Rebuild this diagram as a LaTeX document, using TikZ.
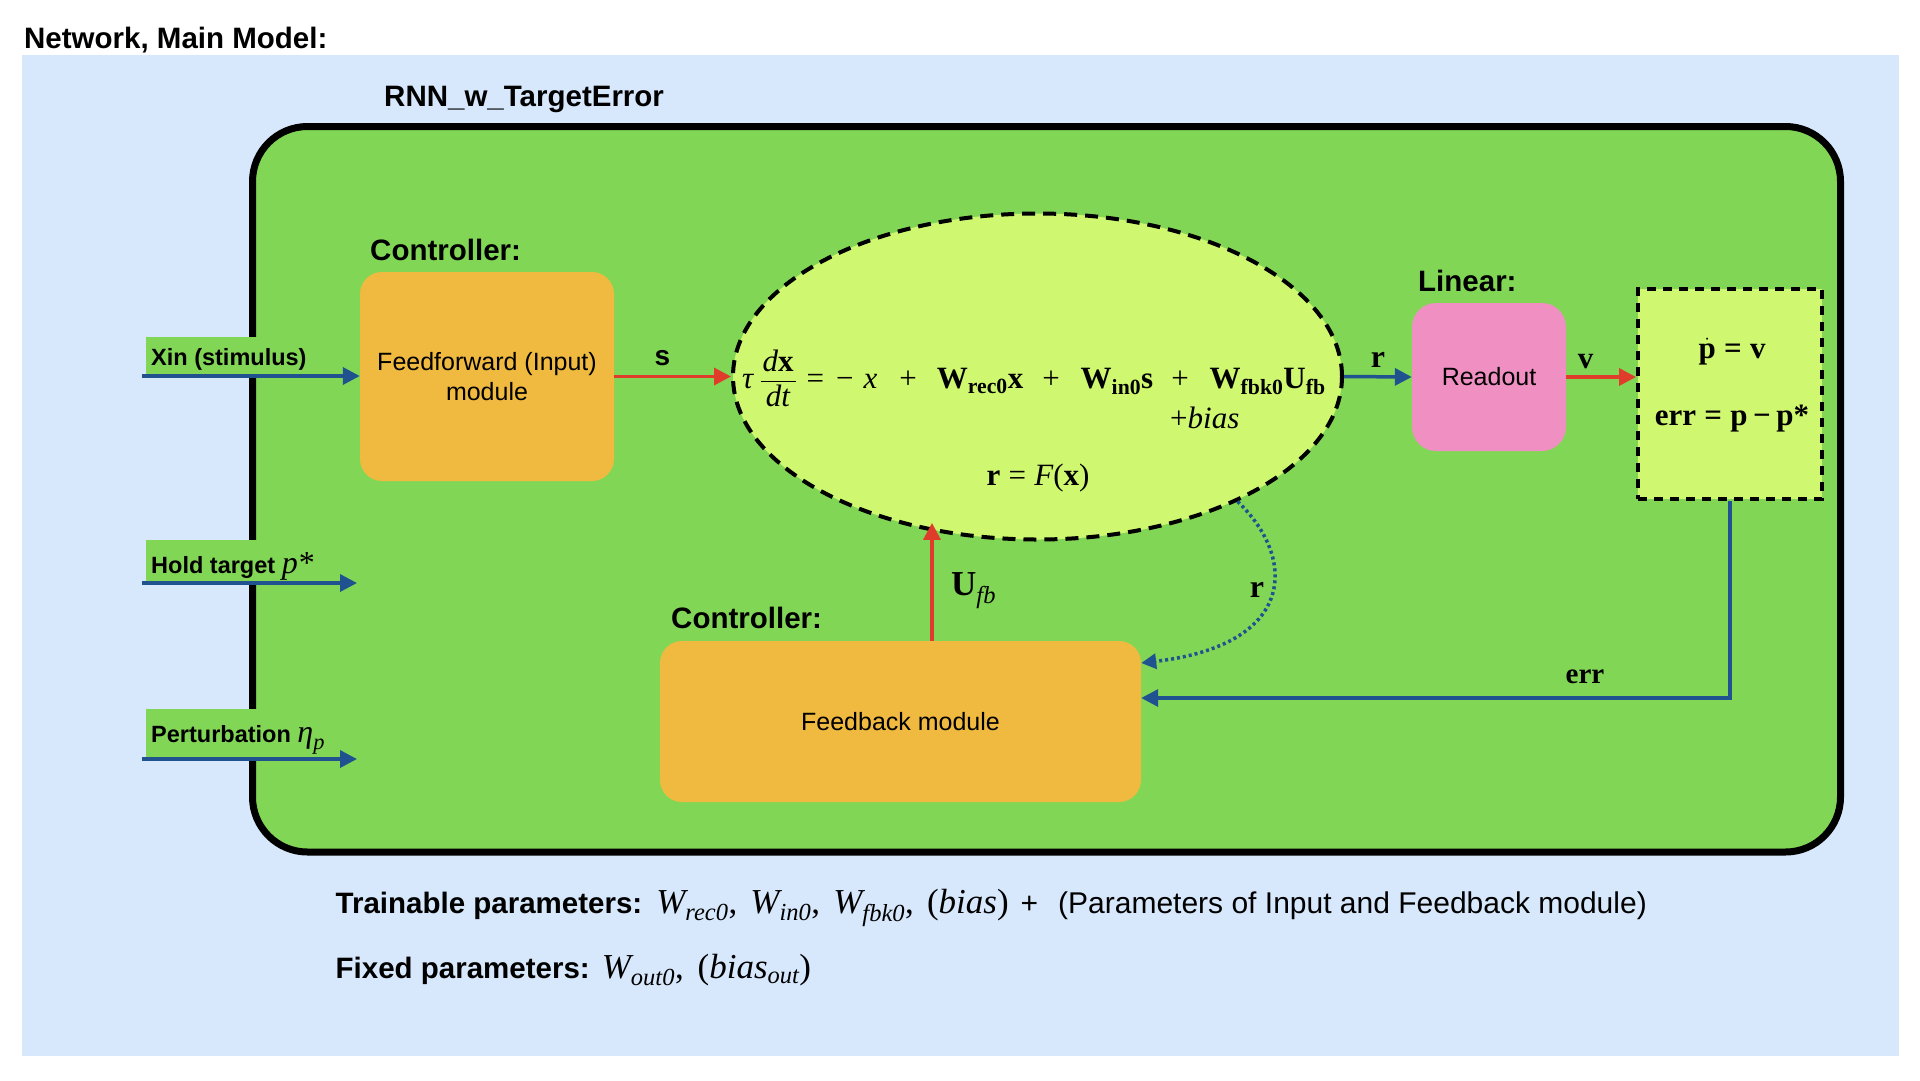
\documentclass[tikz,border=0pt]{standalone}
\usepackage{amsmath}
\usepackage[no-math]{fontspec}
\setmainfont{Liberation Sans}
\newfontfamily\tms{Liberation Serif}
\usetikzlibrary{arrows.meta,shapes.geometric,calc}

\definecolor{bgblue}{HTML}{D7E8FC}
\definecolor{boxgreen}{HTML}{82D656}
\definecolor{limefill}{HTML}{D0F770}
\definecolor{modorange}{HTML}{EFBA3F}
\definecolor{pinkro}{HTML}{F08FC2}
\definecolor{arred}{HTML}{E03C2B}
\definecolor{arblue}{HTML}{20528F}

\newcommand\fs[2]{\fontsize{#1}{#2}\selectfont}
\newcommand\sB[1]{\text{\tms\bfseries\upshape #1}}
\newcommand\sI[1]{\text{\tms\mdseries\itshape #1}}
\newcommand\sR[1]{\text{\tms\mdseries\upshape #1}}
\newcommand\hs[1]{\hskip #1pt\relax}

\tikzset{
  lbl/.style={font=\fs{29.5}{35}\bfseries, inner sep=0pt, anchor=base west},
  boxtxt/.style={font=\fs{25}{30}, align=center, inner sep=0pt},
  modbox/.style={fill=modorange, rounded corners=22pt},
  blar/.style={color=arblue, line width=3.5pt, -{Triangle[length=17pt,width=17pt]}},
  rdar/.style={color=arred, line width=3.5pt, -{Triangle[length=17pt,width=17pt]}},
  dotar/.style={color=arblue, line width=3.5pt, dash pattern=on 3pt off 3pt, -{Triangle[length=15pt,width=15pt]}},
  inlbl/.style={fill=boxgreen, font=\fs{23.5}{28}\bfseries, anchor=base west, inner xsep=5pt, inner ysep=5pt},
  eqn/.style={font=\fs{31}{36}, inner sep=0pt},
  arlbl/.style={inner sep=0pt, anchor=base},
  dashbig/.style={draw=black, line width=4pt, dash pattern=on 13pt off 8pt},
  dashsmall/.style={draw=black, line width=4pt, dash pattern=on 9pt off 7pt},
}

\begin{document}
\begin{tikzpicture}[x=1pt,y=-1pt]
\useasboundingbox (0,0) rectangle (1920,1080);
\fill[white] (0,0) rectangle (1920,1080);
\fill[bgblue] (22,55) rectangle (1899,1056);

\node[lbl] (title) at (24,48) {Network, Main Model:};
\node[lbl] (rnnlbl) at (384,106) {RNN\_w\_TargetError};

% outer network box
\node[draw=black, fill=boxgreen, line width=7pt, rounded corners=55pt,
      minimum width=1588pt, minimum height=725.5pt, inner sep=0pt, anchor=north west] (outer) at (249,123) {};

% modules
\node[modbox, boxtxt, minimum width=254pt, minimum height=209pt] (ff) at (487,376.5) {Feedforward (Input)\\module};
\node[ellipse, dashbig, fill=limefill, minimum width=609pt, minimum height=326pt, inner sep=0pt] (rnn) at (1037.5,376.5) {};
\node[fill=pinkro, rounded corners=24pt, boxtxt, minimum width=154pt, minimum height=148pt] (ro) at (1489,377) {Readout};
\node[fill=limefill, dashsmall, minimum width=184pt, minimum height=210pt, inner sep=0pt] (dyn) at (1730,394) {};
\node[modbox, boxtxt, minimum width=481pt, minimum height=161pt] (fb) at (900.5,721.5) {Feedback module};

\node[lbl] (ctrl1) at (370,260) {Controller:};
\node[lbl] (ctrl2) at (671,628) {Controller:};
\node[lbl] (lin) at (1418,291) {Linear:};

% equations
\node[eqn, anchor=base west] (eq1) at (742,388) {$\sI{τ}\hs{6}\dfrac{\hs{2}\sI{d}\sB{x}\hs{2}\vphantom{\sB{X}}}{\sI{dt}\vphantom{\sB{X}}}\hs{10}\sR{=}\hs{12}\sR{−}\hs{10}\sI{x}\hs{22}\sR{+}\hs{20}\sB{W}_{\sB{rec0}}\sB{x}\hs{19}\sR{+}\hs{21}\sB{W}_{\sB{in0}}\sB{s}\hs{18}\sR{+}\hs{21}\sB{W}_{\sB{fbk0}}\sB{U}_{\sB{fb}}$};
\node[eqn, anchor=base west] (eq2) at (1170,428) {$\sR{+}\sI{bias}$};
\node[eqn, anchor=base] (eq3) at (1038,485) {$\sB{r}\mkern6mu\sR{=}\mkern6mu\sI{F}\sR{(}\sB{x}\sR{)}$};

\node[eqn, anchor=base] (dynA) at (1732,358) {$\dot{\sB{p}}\mkern6mu\sB{=}\mkern6mu\sB{v}$};
\node[eqn, anchor=base] (dynB) at (1732,425) {$\sB{err}\mkern6mu\sB{=}\mkern6mu\sB{p}\mkern4mu\sB{−}\mkern4mu\sB{p}\sB{*}$};

% inputs
\node[inlbl, text height=23pt, text depth=6pt] (xin) at (146,365) {Xin (stimulus)};
\node[inlbl, text height=28pt, text depth=4.5pt] (hold) at (146,573) {Hold target {\fs{32}{36}$\sI{p}\hs{1}\sR{*}$}};
\node[inlbl, text height=28pt, text depth=12pt] (pert) at (146,742) {Perturbation {\fs{32}{35}$\sI{η}_{\sI{p}}$}};

\coordinate (xinS) at (142,376);
\coordinate (holdS) at (142,583);
\coordinate (holdE) at (357,583);
\coordinate (pertS) at (142,759);
\coordinate (pertE) at (357,759);
\draw[blar] (xinS) -- (xinS -| ff.west);
\draw[blar] (holdS) -- (holdE);
\draw[blar] (pertS) -- (pertE);

% main connectors
\draw[rdar] (ff.east) -- (rnn.west);
\draw[blar] (rnn.east) -- (ro.west);
\draw[rdar] (ro.east) -- (ro.east -| dyn.west);
\draw[blar] (dyn.south) |- ([yshift=23.5pt]fb.east);
\coordinate (ufbbase) at ([xshift=31.5pt]fb.north);
\coordinate (ufbtop) at (ufbbase |- rnn.235.4);
\draw[rdar] (ufbbase) -- ([yshift=8pt]ufbtop);
\draw[dotar] (rnn.-32.5) .. controls +(60,57) and +(155,-18) .. ([yshift=58.5pt]fb.east);

% connector labels
\node[arlbl, font=\fs{28}{32}\bfseries] (slbl) at (662.5,365) {s};
\node[arlbl, font=\fs{32}{36}] (rlbl) at (1378,367.5) {$\sB{r}$};
\node[arlbl, font=\fs{31}{36}] (vlbl) at (1585.5,368) {$\sB{v}$};
\node[arlbl, font=\fs{29}{34}] (errlbl) at (1585,683) {$\sB{err}$};
\node[arlbl, anchor=base west, font=\fs{35}{40}] (ufblbl) at (951,595) {$\sB{U}_{\sI{fb}}$};
\node[arlbl, font=\fs{32}{36}] (r2lbl) at (1257,597) {$\sB{r}$};

% bottom text
\node[anchor=base west, inner sep=0pt, font=\fs{30}{36}] (train) at (335.5,913)
  {{\fs{29.5}{35}\bfseries Trainable parameters:}\hspace{14pt}{\fs{35}{42}$\sI{W}_{\sI{rec0}}\sR{,}\mkern9.5mu\sI{W}_{\sI{in0}}\sR{,}\mkern9.5mu\sI{W}_{\sI{fbk0}}\sR{,}\mkern9.5mu\sR{(}\sI{bias}\sR{)}$}\hspace{12pt}+\hspace{20pt}(Parameters of Input and Feedback module)};
\node[anchor=base west, inner sep=0pt, font=\fs{30}{36}] (fixed) at (335.5,978)
  {{\fs{29.5}{35}\bfseries Fixed parameters:}\hspace{12pt}{\fs{35}{42}$\sI{W}_{\sI{out0}}\sR{,}\mkern10mu\sR{(}\sI{bias}_{\sI{out}}\sR{)}$}};
\end{tikzpicture}
\end{document}
